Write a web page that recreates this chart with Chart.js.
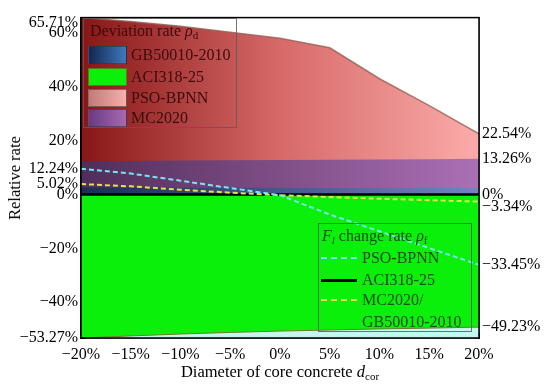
<!DOCTYPE html>
<html>
<head>
<meta charset="utf-8">
<script src="https://cdn.jsdelivr.net/npm/chart.js@4.4.1/dist/chart.umd.min.js"></script>
<style>
  html, body { margin: 0; padding: 0; background: #fff; }
  #wrap { position: relative; width: 550px; height: 390px; font-family: "Liberation Serif", "Times New Roman", serif; }
  #chart { position: absolute; left: 0; top: 0; }
  .box { position: absolute; border: 1px solid rgba(90, 90, 90, 0.85); box-sizing: border-box; }
  .t { position: absolute; font-size: 16px; line-height: 18px; white-space: nowrap; }
  .sw { position: absolute; left: 88px; width: 39px; height: 18px; box-sizing: border-box; border: 1px solid rgba(50, 50, 50, 0.55); }
  .ln { position: absolute; left: 321px; width: 36px; height: 0; }
  sub { font-size: 11px; vertical-align: -3px; line-height: 0; }
  .lg1 { color: #3c0a0a; }
  .lg2 { color: #0b4a0b; }
</style>
</head>
<body>
<div id="wrap">
  <canvas id="chart" width="550" height="390"></canvas>

  <!-- leyenda: deviation rate -->
  <div class="box" style="left:83px; top:18px; width:154px; height:110px;"></div>
  <div class="t lg1" style="left:90px; top:22px;">Deviation rate <i>ρ</i><sub>d</sub></div>
  <div class="sw" style="top:46px; background:linear-gradient(90deg, #15264f, #3f78bd);"></div>
  <div class="t lg1" style="left:131px; top:46px;">GB50010-2010</div>
  <div class="sw" style="top:68px; background:#0af00a; border-color:#5a7a20;"></div>
  <div class="t lg1" style="left:131px; top:68px;">ACI318-25</div>
  <div class="sw" style="top:89px; background:linear-gradient(90deg, #c27a76, #f7b0ac);"></div>
  <div class="t lg1" style="left:131px; top:89px;">PSO-BPNN</div>
  <div class="sw" style="top:109px; background:linear-gradient(90deg, #6a3a82, #a66ab0);"></div>
  <div class="t lg1" style="left:131px; top:109px;">MC2020</div>

  <!-- leyenda: Fl change rate -->
  <div class="box" style="left:318px; top:223px; width:154px; height:109px;"></div>
  <div class="t lg2" style="left:322px; top:227px;"><i>F</i><sub><i>l</i></sub> change rate <i>ρ</i><sub>f</sub></div>
  <div class="ln" style="top:257px; border-top:2px dashed #78e6f0;"></div>
  <div class="t lg2" style="left:362px; top:249px;">PSO-BPNN</div>
  <div class="ln" style="top:279px; border-top:3px solid #000;"></div>
  <div class="t lg2" style="left:362px; top:271px;">ACI318-25</div>
  <div class="ln" style="top:299px; border-top:2px dashed #e6e050;"></div>
  <div class="t lg2" style="left:362px; top:291px;">MC2020/</div>
  <div class="t lg2" style="left:362px; top:313px;">GB50010-2010</div>

  <!-- títulos de ejes -->
  <div class="t" style="left:280px; top:363px; font-size:16.5px; transform:translateX(-50%);">Diameter of core concrete <i>d</i><sub>cor</sub></div>
  <div class="t" style="left:15px; top:178px; font-size:16.5px; transform:translate(-50%, -50%) rotate(-90deg);">Relative rate</div>
</div>

<script>
// eje x: variación del diámetro del núcleo
const dcor = [-20, -15, -10, -5, 0, 5, 10, 15, 20];

// deviation rate ρd (eje izquierdo)
const devPSO = [65.71, 64.3, 62.5, 60.3, 58.0, 54.5, 43.0, 33.0, 22.54];
const devMC = [12.4, 12.5, 12.6, 12.7, 12.8, 12.9, 13.0, 13.1, 13.26];
const devGB = [2.6, 2.6, 2.5, 2.5, 2.5, 2.4, 2.4, 2.4, 2.4];
const devACI = [-53.27, -52.5, -51.8, -51.2, -50.7, -50.3, -49.9, -49.6, -49.23];

// Fl change rate ρf (escala secundaria)
const rfPSO = [12.24, 10.0, 6.6, 3.1, -0.3, -9.5, -17.5, -25.5, -33.45];
const rfACI = [0, 0, 0, 0, 0, 0, 0, 0, 0];
const rfMC = [5.02, 3.9, 2.3, 0.9, -0.3, -1.2, -2.0, -2.7, -3.34];

// etiquetas de ticks
const xTicks = [-20, -15, -10, -5, 0, 5, 10, 15, 20];
const devMin = -53.27, devMax = 65.71;
const leftDevTicks = [-53.27, -40, -20, 0, 20, 40, 60, 65.71];
const leftRfTicks = [12.24, 5.02];
const rightDevTicks = [22.54, 13.26, -49.23];
const rightRfTicks = [0, -3.34, -33.45];
const fScale = 0.78; // unidades ρd por unidad ρf

const FONT = '"Liberation Serif", "Times New Roman", serif';

function pct(v) {
  return (v < 0 ? '\u2212' : '') + Math.abs(v) + '%';
}

function pts(arr) {
  return dcor.map((x, i) => ({ x: x, y: arr[i] }));
}

function hGrad(stops) {
  return (c) => {
    const a = c.chart.chartArea;
    if (!a) return stops[0][1];
    const g = c.chart.ctx.createLinearGradient(a.left, 0, a.right, 0);
    stops.forEach(([p, col]) => g.addColorStop(p, col));
    return g;
  };
}

const framePlugin = {
  id: 'frame',
  beforeDatasetsDraw(chart) {
    const { ctx, chartArea: a } = chart;
    const g = ctx.createLinearGradient(0, a.top, 0, a.bottom);
    g.addColorStop(0, '#ffffff');
    g.addColorStop(0.8, '#ffffff');
    g.addColorStop(1, 'rgb(190,248,240)');
    ctx.save();
    ctx.fillStyle = g;
    ctx.fillRect(a.left, a.top, a.right - a.left, a.bottom - a.top);
    ctx.restore();
  },
  afterDraw(chart) {
    const { ctx, chartArea: a } = chart;
    ctx.save();
    ctx.strokeStyle = '#000';
    ctx.lineWidth = 1.5;
    ctx.strokeRect(a.left, a.top, a.right - a.left, a.bottom - a.top);
    ctx.restore();
  }
};

const tickFont = (c) => ({
  family: FONT,
  size: 16,
  lineHeight: c.tick && c.tick.nudge ? 0.6 : 1.2
});

const areaBase = { pointRadius: 0, tension: 0, fill: 'origin', yAxisID: 'y', borderWidth: 0 };

new Chart(document.getElementById('chart'), {
  type: 'line',
  data: {
    datasets: [
      { label: 'PSO-BPNN ρf', data: pts(rfPSO), yAxisID: 'yF', borderColor: '#78e6f0', borderWidth: 2, borderDash: [5, 3], pointRadius: 0, fill: false },
      { label: 'MC2020/GB50010-2010 ρf', data: pts(rfMC), yAxisID: 'yF', borderColor: '#e6e050', borderWidth: 2, borderDash: [5, 3], pointRadius: 0, fill: false },
      { label: 'ACI318-25 ρf', data: pts(rfACI), yAxisID: 'yF', borderColor: '#000', borderWidth: 2.5, pointRadius: 0, fill: false },
      Object.assign({}, areaBase, { label: 'GB50010-2010', data: pts(devGB),
        backgroundColor: hGrad([[0, 'rgb(25,45,85)'], [1, 'rgb(115,130,195)']]) }),
      Object.assign({}, areaBase, { label: 'MC2020', data: pts(devMC),
        backgroundColor: hGrad([[0, 'rgb(80,45,90)'], [0.5, 'rgb(128,78,135)'], [1, 'rgb(170,112,180)']]) }),
      Object.assign({}, areaBase, { label: 'PSO-BPNN', data: pts(devPSO), borderWidth: 1.5,
        borderColor: 'rgba(150,95,85,0.8)',
        backgroundColor: hGrad([[0, 'rgb(135,22,22)'], [0.5, 'rgb(215,105,105)'], [1, 'rgb(250,172,170)']]) }),
      Object.assign({}, areaBase, { label: 'ACI318-25', data: pts(devACI), borderWidth: 1,
        borderColor: 'rgb(110,120,40)', backgroundColor: 'rgb(10,240,10)' })
    ]
  },
  options: {
    responsive: false,
    animation: false,
    devicePixelRatio: 1,
    layout: { padding: { top: 10, left: 0, right: 0, bottom: 0 } },
    plugins: { legend: { display: false }, tooltip: { enabled: false } },
    scales: {
      x: {
        type: 'linear', min: -20, max: 20, z: 1,
        afterBuildTicks: (s) => { s.ticks = xTicks.map(v => ({ value: v })); },
        ticks: { color: '#000', font: { family: FONT, size: 16 }, padding: 12, autoSkip: false, maxRotation: 0, callback: (v) => pct(v) },
        grid: { drawOnChartArea: false, tickLength: -5, color: '#000' },
        border: { color: '#000', width: 1.5 },
        afterFit: (s) => { s.height = 52; }
      },
      y: {
        position: 'left', min: devMin, max: devMax, z: 1,
        afterBuildTicks: (s) => {
          const t = leftDevTicks.map(v => ({ value: v, txt: v === devMax ? ['', pct(v)] : pct(v), nudge: v === devMax }));
          leftRfTicks.forEach(v => t.push({ value: v * fScale, txt: pct(v) }));
          s.ticks = t;
        },
        ticks: { color: '#000', font: tickFont, padding: 8, autoSkip: false, callback: (v, i, t) => t[i].txt },
        grid: { drawOnChartArea: false, tickLength: -5, color: '#000' },
        border: { color: '#000', width: 1.5 },
        afterFit: (s) => { s.width = 81; }
      },
      yF: {
        position: 'right', min: devMin / fScale, max: devMax / fScale, z: 1,
        afterBuildTicks: (s) => {
          const t = rightRfTicks.map(v => ({ value: v, txt: v === -3.34 ? ['', pct(v)] : pct(v), nudge: v === -3.34 }));
          rightDevTicks.forEach(v => t.push({ value: v / fScale, txt: pct(v) }));
          s.ticks = t;
        },
        ticks: { color: '#000', font: tickFont, padding: 3, autoSkip: false, callback: (v, i, t) => t[i].txt },
        grid: { drawOnChartArea: false, drawTicks: false },
        border: { color: '#000', width: 1.5 },
        afterFit: (s) => { s.width = 71; }
      }
    }
  },
  plugins: [framePlugin]
});
</script>
</body>
</html>
